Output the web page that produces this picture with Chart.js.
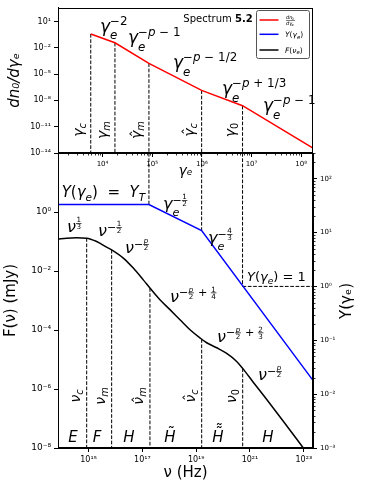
<!DOCTYPE html>
<html>
<head>
<meta charset="utf-8">
<script src="https://cdn.jsdelivr.net/npm/chart.js@4.4.0/dist/chart.umd.min.js"></script>
<style>
html, body { margin: 0; padding: 0; background: #fff; }
#wrap { position: relative; width: 365px; height: 489px; }
canvas { position: absolute; left: 0; top: 0; }
</style>
</head>
<body>
<div id="wrap">
  <canvas id="bottomChart" width="365" height="489"></canvas>
  <canvas id="topChart" width="365" height="489"></canvas>
</div>
<script>
// top panel: electron distribution at its break Lorentz factors
const gammaBreaks = [5.8e3, 1.78e4, 8.6e4, 9.9e5, 6.6e6, 1.73e8];
const dnValues = [0.38, 0.0377, 1.7e-4, 1.4e-7, 2.5e-9, 3.6e-14];

// bottom panel: Compton parameter Y(γe), on the γe axis
const yGamma = [1.27e3, 8.6e4, 9.9e5, 1.73e8];
const yValues = [33.2, 33.2, 10.9, 0.018];

// bottom panel: flux F(ν)
const nu = [7.3e13, 1.53e14, 3.6e14, 8.5e14, 2.0e15, 4.7e15, 7.2e15, 1.95e16, 4.6e16,
  1.08e17, 1.91e17, 4.5e17, 1.06e18, 2.5e18, 5.9e18, 1.38e19, 2.45e19, 5.8e19,
  1.36e20, 3.2e20, 5.35e20, 1.32e21, 4.2e21, 1.73e22, 9.6e22];
const flux = [0.120, 0.130, 0.133, 0.130, 0.100, 0.0644, 0.0521, 0.0274, 0.01253,
  5.0e-3, 2.64e-3, 1.06e-3, 4.9e-4, 2.23e-4, 1.02e-4, 5.4e-5, 3.7e-5, 2.5e-5,
  1.6e-5, 8.6e-6, 5.0e-6, 1.7e-6, 4.4e-7, 8.1e-8, 1.0e-8];
const nuBreaks = [8.5e14, 7.2e15, 1.91e17, 1.6e19, 5.35e20];
const fluxAtBreaks = [0.130, 0.0521, 2.64e-3, 4.9e-5, 5.0e-6];

// axis ranges and labelled ticks
const gammaRange = [1.27e3, 1.73e8];
const dnRange = [1e-14, 3.66e2];
const nuRange = [7.3e13, 2.2e23];
const fluxRange = [1e-8, 1e2];
const yRange = [1e-3, 3.0e2];
const gammaTicks = [1e4, 1e5, 1e6, 1e7, 1e8];
const dnTicks = [1e-14, 1e-11, 1e-8, 1e-5, 1e-2, 1e1];
const nuTicks = [1e15, 1e17, 1e19, 1e21, 1e23];
const fluxTicks = [1e-8, 1e-6, 1e-4, 1e-2, 1e0];
const yTicks = [1e-3, 1e-2, 1e-1, 1e0, 1e1, 1e2];

const FAM = '"DejaVu Sans", sans-serif';
Chart.defaults.font.family = FAM;
Chart.defaults.color = '#000';

const SUP = { '-': '⁻', '0': '⁰', '1': '¹', '2': '²', '3': '³', '4': '⁴', '5': '⁵', '6': '⁶', '7': '⁷', '8': '⁸', '9': '⁹' };
function pow10Label(v) {
  const e = Math.round(Math.log10(v));
  return '10' + String(e).split('').map(c => SUP[c]).join('');
}

function logAxis(range, ticks, size, extra) {
  return Object.assign({
    type: 'logarithmic',
    min: range[0],
    max: range[1],
    bounds: 'data',
    afterBuildTicks: s => { s.ticks = ticks.map(v => ({ value: v })); },
    ticks: { autoSkip: false, maxRotation: 0, minRotation: 0, padding: 3, font: { size: size }, callback: v => pow10Label(v) },
    grid: { drawOnChartArea: false, drawTicks: true, tickLength: 4, tickColor: '#000', tickWidth: 1 },
    border: { display: true, color: '#000', width: 1 },
  }, extra);
}

function dashed(points, xAxisID, yAxisID) {
  return { data: points, borderColor: '#000', borderWidth: 1, borderDash: [3.7, 1.6], pointRadius: 0, xAxisID, yAxisID };
}

// ---- small mathtext helpers ----
function setFont(ctx, size, it, bold) {
  ctx.font = (it ? 'italic ' : '') + (bold ? 'bold ' : '') + size.toFixed(2) + 'px ' + FAM;
}
function run(ctx, s, x, y, size, dry) {
  let w = 0;
  for (const ch of s) {
    setFont(ctx, size, /[A-Za-zα-ω]/.test(ch));
    if (!dry) ctx.fillText(ch, x + w, y);
    w += ctx.measureText(ch).width;
  }
  return w;
}
function frac(ctx, num, den, x, bar, size, dry) {
  const wn = run(ctx, num, 0, 0, size, true), wd = run(ctx, den, 0, 0, size, true);
  const w = Math.max(wn, wd) + 1;
  if (!dry) {
    run(ctx, num, x + (w - wn) / 2, bar - 1.2, size);
    run(ctx, den, x + (w - wd) / 2, bar + size * 0.82, size);
    ctx.fillRect(x, bar - 0.35, w, 0.7);
  }
  return w + 0.5;
}
function mt(ctx, x, y, size, toks, dry) {
  let cx = x;
  for (const tk of toks) {
    if (typeof tk === 'string') { cx += run(ctx, tk, cx, y, size, dry); continue; }
    if (tk.acc) {
      const w = run(ctx, tk.acc, cx, y, size, dry);
      if (!dry) {
        setFont(ctx, size, false);
        tk.marks.forEach((m, i) => {
          const mw = ctx.measureText(m).width;
          ctx.fillText(m, cx + (w - mw) / 2 + size * 0.08, y - tk.lift * size - i * size * 0.2);
        });
      }
      cx += w;
      continue;
    }
    const s2 = size * 0.7;
    let ws = 0, wp = 0;
    if (tk.sub) ws = run(ctx, tk.sub, cx, y + size * (tk.sup ? 0.45 : 0.25), s2, dry);
    if (tk.sup) {
      const sy = y - size * (tk.frac ? 0.33 : 0.4);
      let sx = cx;
      for (const p of tk.sup) {
        sx += typeof p === 'string' ? run(ctx, p, sx, sy, s2, dry) : frac(ctx, p[0], p[1], sx, sy - s2 * 0.3, size * 0.45, dry);
      }
      wp = sx - cx;
    }
    cx += Math.max(ws, wp);
  }
  return cx - x;
}
function vlabel(ctx, bx, cy, size, toks) {
  const w = mt(ctx, 0, 0, size, toks, true);
  ctx.save();
  ctx.translate(bx, cy);
  ctx.rotate(-Math.PI / 2);
  mt(ctx, -w / 2, 0, size, toks);
  ctx.restore();
}
function tick(ctx, x0, y0, x1, y1) {
  ctx.beginPath(); ctx.moveTo(x0, y0); ctx.lineTo(x1, y1); ctx.stroke();
}
function frame(ctx, a) {
  ctx.strokeStyle = '#000';
  ctx.lineWidth = 1;
  ctx.strokeRect(Math.round(a.left) + 0.5, Math.round(a.top) + 0.5, Math.round(a.right - a.left) - 1, Math.round(a.bottom - a.top) - 1);
}

const hat = c => ({ acc: c, marks: ['ˆ'], lift: 0.02 });
const pw = (sub, sup) => ({ sub, sup, frac: sup.some(p => typeof p !== 'string') });

const topDecor = {
  id: 'topDecor',
  afterDraw(chart) {
    const { ctx, chartArea: a, scales: { x } } = chart;
    ctx.save();
    frame(ctx, a);
    ctx.lineWidth = 0.8;
    for (let d = 3; d <= 8; d++) {
      for (let k = 2; k <= 9; k++) {
        const v = k * Math.pow(10, d);
        if (v < gammaRange[0] || v > gammaRange[1]) continue;
        const px = Math.round(x.getPixelForValue(v)) + 0.5;
        tick(ctx, px, a.bottom, px, a.bottom + 2.5);
      }
    }
    ctx.fillStyle = '#000';
    ctx.textBaseline = 'alphabetic';
    // slopes of the distribution
    mt(ctx, 100, 31.5, 17, ['γ', pw('e', ['−2'])]);
    mt(ctx, 128, 43, 17, ['γ', pw('e', ['−p − 1'])]);
    mt(ctx, 173, 68, 17, ['γ', pw('e', ['−p − 1/2'])]);
    mt(ctx, 222, 94, 17, ['γ', pw('e', ['−p + 1/3'])]);
    mt(ctx, 263, 111, 17, ['γ', pw('e', ['−p − 1'])]);
    // break names next to the dashed lines
    const names = [['γ', { sub: 'c' }], ['γ', { sub: 'm' }], [hat('γ'), { sub: 'm' }], [hat('γ'), { sub: 'c' }], ['γ', { sub: '0' }]];
    names.forEach((t, i) => vlabel(ctx, x.getPixelForValue(gammaBreaks[i]) - 8, 130, 14, t));
    // spectrum tag
    setFont(ctx, 10, false);
    ctx.fillText('Spectrum ', 183.3, 22);
    const w = ctx.measureText('Spectrum ').width;
    setFont(ctx, 10, false, true);
    ctx.fillText('5.2', 183.3 + w, 22);
    // legend
    ctx.fillStyle = '#fff';
    ctx.strokeStyle = '#555';
    ctx.lineWidth = 1;
    ctx.beginPath();
    ctx.roundRect(256.5, 10.5, 53, 48, 2);
    ctx.fill();
    ctx.stroke();
    const items = [['#ff0000', 20], ['#0000ff', 34.3], ['#000000', 50]];
    ctx.lineWidth = 1.5;
    items.forEach(([c, yy]) => {
      ctx.strokeStyle = c;
      tick(ctx, 259.5, yy, 278.5, yy);
    });
    ctx.fillStyle = '#000';
    // dn0/dγe as a tiny fraction
    run(ctx, 'dn', 286, 18.5, 5); run(ctx, '0', 291.5, 19.5, 3.5);
    run(ctx, 'dγ', 286, 25, 5); run(ctx, 'e', 291.5, 26, 3.5);
    ctx.fillRect(286, 20, 9, 0.5);
    mt(ctx, 285, 37, 7.5, ['Y(γ', { sub: 'e' }, ')']);
    mt(ctx, 285, 52.5, 7.5, ['F(ν', { sub: 'e' }, ')']);
    ctx.restore();
  }
};

const bottomDecor = {
  id: 'bottomDecor',
  afterDraw(chart) {
    const { ctx, chartArea: a, scales: { x, yY } } = chart;
    ctx.save();
    frame(ctx, a);
    ctx.strokeStyle = '#000';
    ctx.lineWidth = 0.8;
    // minor ticks of the right axis
    for (let d = -3; d <= 2; d++) {
      for (let k = 2; k <= 9; k++) {
        const v = k * Math.pow(10, d);
        if (v > yRange[1]) continue;
        const py = Math.round(yY.getPixelForValue(v)) + 0.5;
        tick(ctx, a.right, py, a.right + 2.5, py);
      }
    }
    ctx.fillStyle = '#000';
    ctx.textBaseline = 'alphabetic';
    mt(ctx, 61.7, 197, 15, ['Y(γ', { sub: 'e' }, ')  =  Y', { sub: 'T' }]);
    mt(ctx, 163, 209, 16, ['γ', pw('e', ['−', ['1', '2']])]);
    mt(ctx, 208, 243, 16, ['γ', pw('e', ['−', ['4', '3']])]);
    mt(ctx, 247, 281, 13, ['Y(γ', { sub: 'e' }, ') = 1']);
    mt(ctx, 67, 232, 16, ['ν', pw(null, [['1', '3']])]);
    mt(ctx, 98, 236, 16, ['ν', pw(null, ['−', ['1', '2']])]);
    mt(ctx, 125, 253, 16, ['ν', pw(null, ['−', ['p', '2']])]);
    mt(ctx, 170, 301.5, 16, ['ν', pw(null, ['−', ['p', '2'], ' + ', ['1', '4']])]);
    mt(ctx, 217, 341.5, 16, ['ν', pw(null, ['−', ['p', '2'], ' + ', ['2', '3']])]);
    mt(ctx, 258, 380, 16, ['ν', pw(null, ['−', ['p', '2']])]);
    const names = [['ν', { sub: 'c' }], ['ν', { sub: 'm' }], [hat('ν'), { sub: 'm' }], [hat('ν'), { sub: 'c' }], ['ν', { sub: '0' }]];
    names.forEach((t, i) => vlabel(ctx, x.getPixelForValue(nuBreaks[i]) - 7, 396, 14, t));
    // regimes
    const regimes = [['E', 73, 0], ['F', 97, 0], ['H', 129, 0], ['H', 170, 1], ['H', 218, 2], ['H', 268, 0]];
    regimes.forEach(([c, cx, n]) => {
      const tok = n ? { acc: c, marks: n === 1 ? ['˜'] : ['˜', '˜'], lift: 0.22 } : c;
      const w = mt(ctx, 0, 0, 15, [tok], true);
      mt(ctx, cx - w / 2, 441.5, 15, [tok]);
    });
    // right axis title
    ctx.save();
    ctx.translate(351, 301);
    ctx.rotate(-Math.PI / 2);
    setFont(ctx, 15, false);
    ctx.textAlign = 'center';
    ctx.fillText('Y(γₑ)', 0, 0);
    ctx.restore();
    ctx.restore();
  }
};

new Chart(document.getElementById('bottomChart'), {
  type: 'line',
  data: {
    datasets: [
      { data: yGamma.map((g, i) => ({ x: g, y: yValues[i] })), borderColor: '#0000ff', borderWidth: 1.5, pointRadius: 0, xAxisID: 'xg', yAxisID: 'yY' },
      { data: nu.map((v, i) => ({ x: v, y: flux[i] })), borderColor: '#000', borderWidth: 1.5, pointRadius: 0, cubicInterpolationMode: 'monotone', xAxisID: 'x', yAxisID: 'yF' },
      ...nuBreaks.map((v, i) => dashed([{ x: v, y: fluxAtBreaks[i] }, { x: v, y: fluxRange[0] }], 'x', 'yF')),
      ...[1, 2].map(i => dashed([{ x: yGamma[i], y: yRange[1] }, { x: yGamma[i], y: yValues[i] }], 'xg', 'yY')),
      dashed([{ x: gammaBreaks[4], y: yRange[1] }, { x: gammaBreaks[4], y: 1 }], 'xg', 'yY'),
      dashed([{ x: gammaBreaks[4], y: 1 }, { x: gammaRange[1], y: 1 }], 'xg', 'yY'),
    ]
  },
  options: {
    responsive: false,
    animation: false,
    devicePixelRatio: 1,
    layout: { padding: { left: 0, top: 153, right: 0, bottom: 0 } },
    plugins: { legend: { display: false }, tooltip: { enabled: false } },
    scales: {
      x: logAxis(nuRange, nuTicks, 8, {
        position: 'bottom',
        afterFit: s => { s.height = 41; },
        title: { display: true, text: 'ν (Hz)', font: { size: 15 }, padding: { top: 0, bottom: 7 } }
      }),
      xg: { type: 'logarithmic', min: gammaRange[0], max: gammaRange[1], bounds: 'data', display: false, position: 'top' },
      yF: logAxis(fluxRange, fluxTicks, 9, {
        position: 'left',
        afterFit: s => { s.width = 58; },
        title: { display: true, text: 'F(ν) (mJy)', font: { size: 15 }, padding: { top: 2, bottom: 0 } }
      }),
      yY: logAxis(yRange, yTicks, 7, {
        position: 'right',
        afterFit: s => { s.width = 52; }
      })
    }
  },
  plugins: [bottomDecor]
});

new Chart(document.getElementById('topChart'), {
  type: 'line',
  data: {
    datasets: [
      { data: gammaBreaks.map((g, i) => ({ x: g, y: dnValues[i] })), borderColor: '#ff0000', borderWidth: 1.5, pointRadius: 0 },
      ...gammaBreaks.slice(0, 5).map((g, i) => dashed([{ x: g, y: dnValues[i] }, { x: g, y: dnRange[0] }], 'x', 'y')),
    ]
  },
  options: {
    responsive: false,
    animation: false,
    devicePixelRatio: 1,
    layout: { padding: { left: 0, top: 5, right: 52, bottom: 309 } },
    plugins: { legend: { display: false }, tooltip: { enabled: false } },
    scales: {
      x: logAxis(gammaRange, gammaTicks, 7, {
        position: 'bottom',
        afterFit: s => { s.height = 27; },
        title: { display: true, text: 'γₑ', font: { size: 14, style: 'italic' }, padding: 0 }
      }),
      y: logAxis(dnRange, dnTicks, 8, {
        position: 'left',
        afterFit: s => { s.width = 58; },
        title: { display: true, text: 'dn₀/dγₑ', font: { size: 15, style: 'italic' }, padding: { top: 6, bottom: 0 } }
      })
    }
  },
  plugins: [topDecor]
});
</script>
</body>
</html>
